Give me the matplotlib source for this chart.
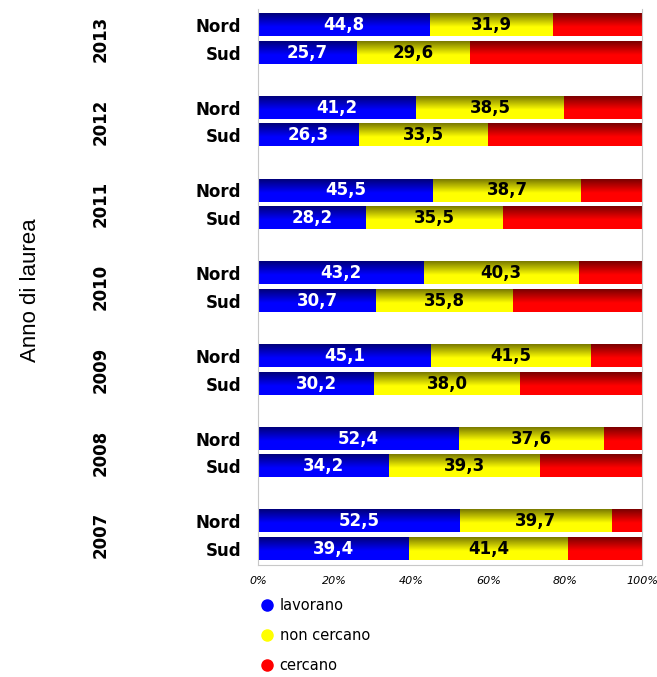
import numpy as np
import matplotlib
matplotlib.use("Agg")
import matplotlib.pyplot as plt
from matplotlib.colors import LinearSegmentedColormap
from matplotlib.lines import Line2D

years = ["2013", "2012", "2011", "2010", "2009", "2008", "2007"]
areas = ["Nord", "Sud"]
lavorano_nord = [44.8, 41.2, 45.5, 43.2, 45.1, 52.4, 52.5]
noncercano_nord = [31.9, 38.5, 38.7, 40.3, 41.5, 37.6, 39.7]
lavorano_sud = [25.7, 26.3, 28.2, 30.7, 30.2, 34.2, 39.4]
noncercano_sud = [29.6, 33.5, 35.5, 35.8, 38.0, 39.3, 41.4]
series_names = ["lavorano", "non cercano", "cercano"]
xticks = [0, 20, 40, 60, 80, 100]

# vertical gradient: dark at top, bright at the bottom
dark = ["#00007a", "#7a7a00", "#7a0000"]
bright = ["#0000ff", "#ffff00", "#ff0000"]
text_col = ["white", "black", "black"]

# rows: Nord at 3k, Sud at 3k+1
lav, nonc, pos, lab = [], [], [], []
for k in range(len(years)):
    lav += [lavorano_nord[k], lavorano_sud[k]]
    nonc += [noncercano_nord[k], noncercano_sud[k]]
    pos += [3 * k, 3 * k + 1]
    lab += areas
lav = np.array(lav)
nonc = np.array(nonc)
cerc = 100 - lav - nonc
segs = [lav, nonc, cerc]

fig = plt.figure(figsize=(6.57, 6.77), dpi=100)
ax = fig.add_axes([258 / 657, 1 - 565 / 677, 384 / 657, 556 / 677])

left = np.zeros(len(lav))
grad = np.linspace(0, 1, 64).reshape(-1, 1)
grad = np.clip(grad / 0.6, 0, 1)
for i, vals in enumerate(segs):
    bars = ax.barh(pos, vals, left=left, height=0.8, color=bright[i], linewidth=0)
    cmap = LinearSegmentedColormap.from_list("g%d" % i, [dark[i], bright[i]])
    for b in bars:
        x0, y0 = b.get_x(), b.get_y()
        ax.imshow(grad, cmap=cmap, aspect="auto", interpolation="bilinear",
                  extent=(x0, x0 + b.get_width(), y0 + b.get_height(), y0), zorder=2)
    if i < 2:
        for p, v, l in zip(pos, vals, left):
            ax.text(l + v / 2, p, ("%.1f" % v).replace(".", ","), ha="center", va="center",
                    color=text_col[i], fontsize=12, fontweight="bold", zorder=3)
    left = left + vals

ax.set_xlim(0, 100)
ax.set_ylim(19.58, -0.58)
ax.set_yticks(pos)
ax.set_yticklabels(lab, fontsize=12, fontweight="bold")
ax.tick_params(axis="y", length=0, pad=12)
ax.set_xticks(xticks)
ax.set_xticklabels(["%d%%" % t for t in xticks], fontsize=8, style="italic")
ax.tick_params(axis="x", length=0, pad=8)
for s in ["left", "right", "bottom"]:
    ax.spines[s].set_color("#c8c8c8")
ax.spines["top"].set_visible(False)

for k, y in enumerate(years):
    ax.text(-0.41, 3 * k + 0.5, y, transform=ax.get_yaxis_transform(), rotation=90,
            ha="center", va="center", fontsize=12, fontweight="bold")

fig.text(30 / 657, 1 - 290 / 677, "Anno di laurea", rotation=90, ha="center", va="center",
         fontsize=16, family="Liberation Sans")

handles = [Line2D([], [], marker="o", linestyle="none", markersize=8, color=c) for c in bright]
fig.legend(handles, series_names, loc="upper left", bbox_to_anchor=(252 / 657, 1 - 592 / 677),
           frameon=False, fontsize=10.5, labelspacing=1.05, handletextpad=0.3, handlelength=1.2,
           borderaxespad=0)

fig.savefig("out.png", dpi=100)
